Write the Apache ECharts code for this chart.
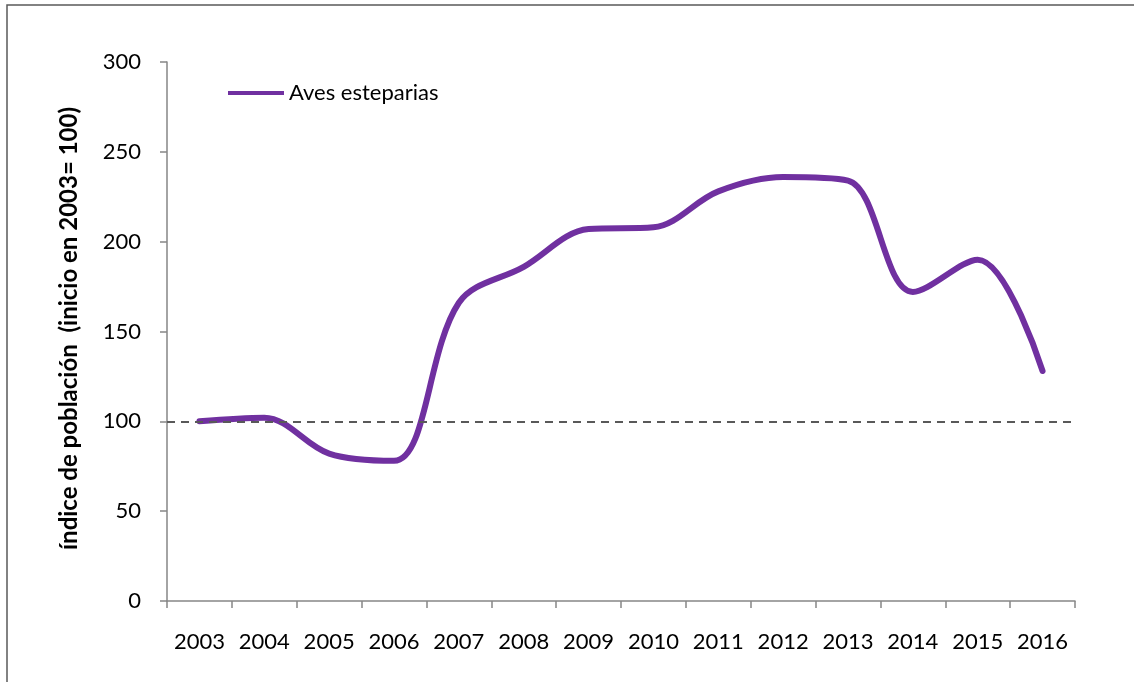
<!DOCTYPE html>
<html>
<head>
<meta charset="utf-8">
<script src="https://cdn.jsdelivr.net/npm/echarts@6/dist/echarts.min.js"></script>
<style>
html,body{margin:0;padding:0;background:#fff;}
#c{width:1134px;height:682px;}
</style>
</head>
<body>
<div id="c"></div>
<script>
const years = ['2003','2004','2005','2006','2007','2008','2009','2010','2011','2012','2013','2014','2015','2016'];
const avesEsteparias = [100, 102, 82, 78, 166, 186, 207, 208, 228, 236, 234, 172, 190, 128];
const seriesName = 'Aves esteparias';
const yAxisTitle = 'índice de población  (inicio en 2003= 100)';
const referenceValue = 100;

const chart = echarts.init(document.getElementById('c'));
const font = 'Lato, "Open Sans", sans-serif';
chart.setOption({
  backgroundColor: '#fff',
  animation: false,
  graphic: [{
    type: 'rect',
    shape: {x: 7, y: 5, width: 1200, height: 760},
    style: {fill: 'none', stroke: '#595959', lineWidth: 1.5},
    silent: true
  }],
  grid: {left: 167, top: 62, right: 59, bottom: 81},
  legend: {
    left: 223, top: 77,
    itemWidth: 56, itemHeight: 14, itemGap: 5,
    data: [{name: seriesName, icon: 'path://M0,6 L56,6 L56,10 L0,10 Z'}],
    textStyle: {fontFamily: font, fontSize: 22, color: '#000'}
  },
  xAxis: {
    type: 'category',
    data: years,
    boundaryGap: true,
    axisLine: {lineStyle: {color: '#868686', width: 1.5}},
    axisTick: {show: true, length: 7, lineStyle: {color: '#868686', width: 1.5}},
    axisLabel: {fontFamily: font, fontSize: 22, color: '#000', margin: 30, interval: 0},
    splitLine: {show: false}
  },
  yAxis: {
    type: 'value',
    min: 0, max: 300, interval: 50,
    name: yAxisTitle,
    nameLocation: 'middle',
    nameGap: 86,
    nameTextStyle: {fontFamily: font, fontSize: 24, fontWeight: 'bold', color: '#000', padding: [0, 0, 0, 6]},
    axisLine: {show: true, lineStyle: {color: '#868686', width: 1.5}},
    axisTick: {show: true, length: 7, lineStyle: {color: '#868686', width: 1.5}},
    axisLabel: {fontFamily: font, fontSize: 22, color: '#000', margin: 26},
    splitLine: {show: false}
  },
  series: [{
    name: seriesName,
    type: 'line',
    data: avesEsteparias,
    smooth: 0.35,
    showSymbol: false,
    symbol: 'none',
    itemStyle: {color: '#7030A0'},
    lineStyle: {color: '#7030A0', width: 6, cap: 'round', join: 'round'},
    markLine: {
      silent: true,
      symbol: 'none',
      label: {show: false},
      lineStyle: {color: '#595959', type: [8, 6], width: 2},
      data: [{yAxis: referenceValue}]
    },
    z: 3
  }]
});
</script>
</body>
</html>
